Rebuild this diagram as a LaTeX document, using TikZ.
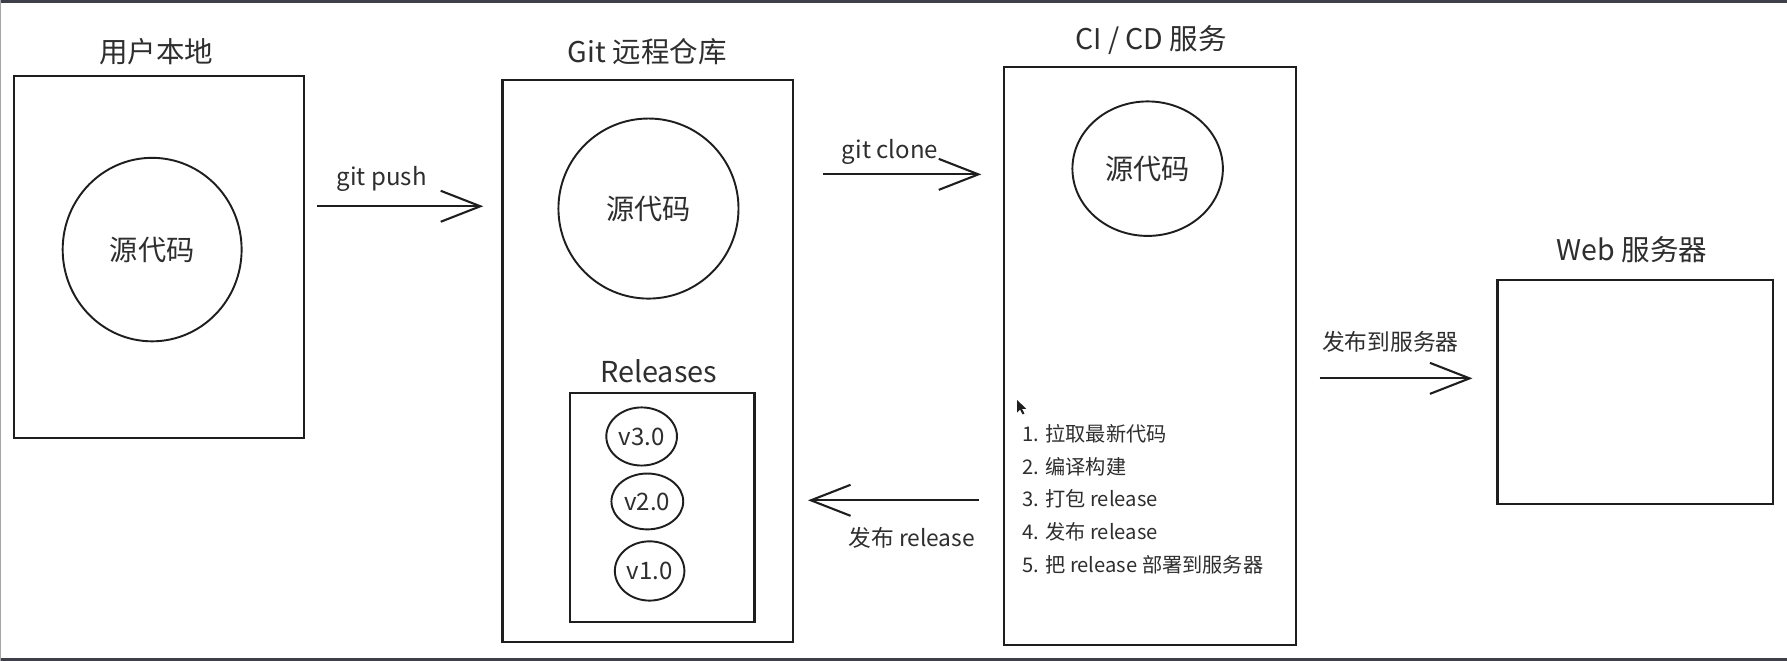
\documentclass[tikz,border=0pt]{standalone}
\usepackage{fontspec}
\setmainfont{Noto Sans CJK SC}
\usepackage{xcolor}
\usepackage{tikz}
\usetikzlibrary{shapes.geometric, arrows.meta, positioning, calc}

\definecolor{barcol}{HTML}{3D4049}
\definecolor{inkcol}{HTML}{1E1E1E}
\definecolor{txtcol}{HTML}{2E2E2E}

\begin{document}
\begin{tikzpicture}[x=0.25mm, y=-0.25mm,
    box/.style={draw=inkcol, line width=1.4pt, rectangle, inner sep=0pt},
    blob/.style={draw=inkcol, line width=1.2pt, ellipse, inner sep=0pt,
                 font=\fontsize{17.6}{20}\selectfont, text=txtcol},
    ver/.style={draw=inkcol, line width=1.2pt, ellipse, inner sep=0pt,
                font=\fontsize{15}{18}\selectfont, text=txtcol},
    head/.style={font=\fontsize{17.8}{21}\selectfont, text=txtcol, inner sep=0pt},
    lbl/.style={font=\fontsize{14.2}{17}\selectfont, text=txtcol, inner sep=0pt},
    flow/.style={draw=inkcol, line width=1.3pt,
                 -{Straight Barb[length=8.7mm, width=6.8mm]}}]

%---------------- Canvas ----------------%
\fill[white] (0,0) rectangle (1568,580);
\useasboundingbox (0,0) rectangle (1568,580);
\fill[barcol] (0,0) rectangle (1568,3);
\fill[barcol] (0,577.5) rectangle (1568,580);
\fill[gray!70] (0,0) rectangle (1,580);

%---------------- Boxes ----------------%
\node[box, minimum width=63.75mm, minimum height=79.25mm] (local) at (139.5,225.5) {};
\node[box, minimum width=63.75mm, minimum height=123.25mm] (repo) at (568.5,316.5) {};
\node[box, minimum width=64mm, minimum height=126.75mm] (ci) at (1009,312.5) {};
\node[box, minimum width=60.5mm, minimum height=49mm] (web) at (1435,344) {};
\node[box, minimum width=40.5mm, minimum height=50.25mm] (rel) at (581,445.5) {};

%---------------- Titles ----------------%
\node[head] (localT) at (137,45) {用户本地};
\node[head] (repoT) at (568,45) {Git 远程仓库};
\node[head] (ciT) at (1010,35) {CI / CD 服务};
\node[head] (webT) at (1432,219) {Web 服务器};
\node[head, font=\fontsize{18}{21}\selectfont] (relT) at (578,326) {Releases};

%---------------- Source code ----------------%
\node[blob, minimum width=39.25mm, minimum height=40.25mm] (localSrc) at (133.5,219) {源代码};
\node[blob, minimum width=39.5mm, minimum height=39.5mm] (repoSrc) at (569,183) {源代码};
\node[blob, minimum width=33mm, minimum height=29.5mm] (ciSrc) at (1007,148) {源代码};

%---------------- Versions ----------------%
\node[ver, minimum width=15.5mm, minimum height=12.75mm] (v3) at (563,383) {v3.0};
\node[ver, minimum width=15.75mm, minimum height=12.25mm] (v2) at (568,440) {v2.0};
\node[ver, minimum width=15.25mm, minimum height=13mm] (v1) at (570,501) {v1.0};

%---------------- Steps ----------------%
\node[anchor=north west, align=left, inner sep=0pt, text=txtcol,
      font=\fontsize{12.6}{20.4}\selectfont] (steps) at (897,372)
      {1. 拉取最新代码\\2. 编译构建\\3. 打包 release\\4. 发布 release\\5. 把 release 部署到服务器};

%---------------- Arrows ----------------%
\node[lbl, font=\fontsize{15}{18}\selectfont] (pushL) at (335,157) {git push};
\coordinate (pushY) at (0,181);
\draw[flow] ($(local.east |- pushY)+(10,0)$) -- ($(repo.west |- pushY)+(-16,0)$);

\node[lbl, font=\fontsize{15}{18}\selectfont] (cloneL) at (781,133) {git clone};
\coordinate (cloneY) at (0,153);
\draw[flow] ($(repo.east |- cloneY)+(25,0)$) -- ($(ci.west |- cloneY)+(-19,0)$);

\node[lbl] (relL) at (800,472) {发布 release};
\coordinate (relY) at (0,439);
\draw[flow] ($(ci.west |- relY)+(-21,0)$) -- ($(repo.east |- relY)+(12,0)$);

\node[lbl] (deployL) at (1220,300) {发布到服务器};
\coordinate (deployY) at (0,332);
\draw[flow] ($(ci.east |- deployY)+(20,0)$) -- ($(web.west |- deployY)+(-21,0)$);

%---------------- Cursor ----------------%
\fill[inkcol] (892.5,351) -- ++(0,11) -- ++(2.6,-2.6) -- ++(2.2,4.3) -- ++(1.6,-0.8)
      -- ++(-2.1,-4.1) -- ++(3.6,-0.1) -- cycle;

\end{tikzpicture}
\end{document}
